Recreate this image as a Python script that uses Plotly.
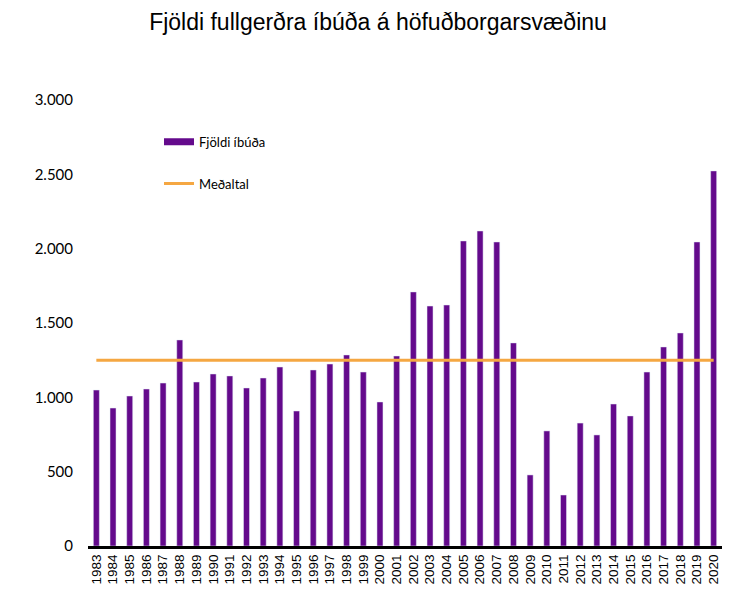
import plotly.graph_objects as go

years = [str(y) for y in range(1983, 2021)]
fjoldi = [1049, 928, 1009, 1056, 1096, 1386, 1103, 1157, 1144, 1063, 1130, 1204, 908, 1184,
          1224, 1285, 1170, 969, 1278, 1709, 1614, 1621, 2052, 2119, 2045, 1366, 478, 774,
          343, 827, 747, 955, 875, 1170, 1339, 1433, 2045, 2523]
medaltal_value = 1250
medaltal = [medaltal_value] * len(years)

purple = "#640A8C"
orange = "#F5A742"

fig = go.Figure()
fig.add_trace(go.Bar(x=years, y=fjoldi, name="Fjöldi íbúða", marker_color=purple,
                     showlegend=False, legendgroup="a"))
# legend entry with a wide rectangular swatch for the bars
fig.add_trace(go.Scatter(x=[None], y=[None], name="Fjöldi íbúða", mode="lines",
                         line=dict(color=purple, width=7), legendgroup="a"))
fig.add_trace(go.Scatter(x=years, y=medaltal, name="Meðaltal", mode="lines",
                         line=dict(color=orange, width=3), legendgroup="b"))

fig.update_layout(
    width=756, height=605,
    margin=dict(l=88, r=34, t=100, b=59),
    paper_bgcolor="white", plot_bgcolor="white",
    separators=",.",
    bargap=0.64,
    title=dict(text="Fjöldi fullgerðra íbúða á höfuðborgarsvæðinu", x=0.5, xanchor="center",
               y=0.963, yanchor="middle",
               font=dict(family="Liberation Sans", size=23, color="black")),
    legend=dict(x=0.112, y=0.94, xanchor="left", yanchor="top", tracegroupgap=22,
                font=dict(family="Lato", size=13, color="black"), bgcolor="rgba(0,0,0,0)"),
    xaxis=dict(type="category", tickmode="array", tickvals=years, ticktext=years,
               tickangle=-90, showgrid=False, showline=True,
               linecolor="black", linewidth=3, ticks="",
               tickfont=dict(family="Liberation Sans", size=13.5, color="black")),
    yaxis=dict(range=[0, 3000], tickvals=[0, 500, 1000, 1500, 2000, 2500, 3000],
               tickformat=",d", showgrid=False, zeroline=False, showline=False, ticks="",
               ticklabelstandoff=14,
               tickfont=dict(family="Lato", size=15, color="black")),
)

fig.write_html("out.html")
